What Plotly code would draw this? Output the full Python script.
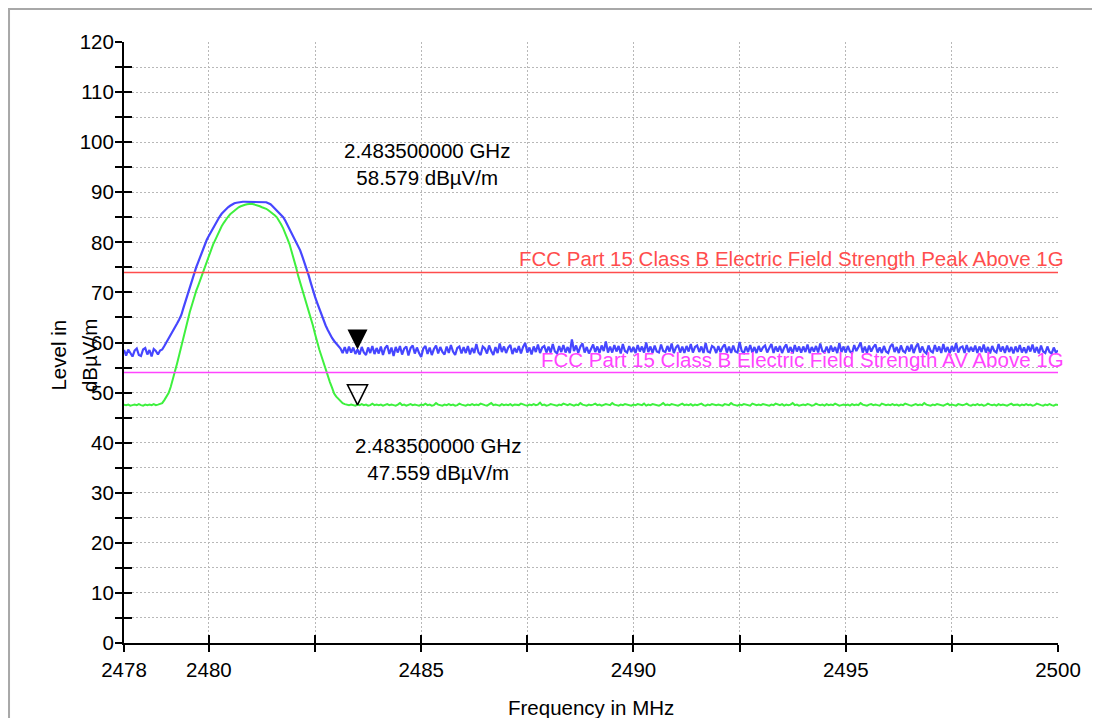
import numpy as np
import plotly.graph_objects as go

# ---------------- data ----------------
FREQ_START_MHZ = 2478.0
FREQ_STEP_MHZ = 0.05

# Peak detector trace (blue), dBµV/m, one row per MHz (20 sweep points each)
PEAK_LEVEL = [
    58.5, 57.4, 58.6, 57.9, 57.2, 58.4, 58.8, 57.5, 57.3, 58.6, 58.9, 57.6, 58.5, 57.2, 58.7, 58.3, 57.6, 58.4, 58.6, 59.3,
    60.0, 60.9, 61.6, 62.3, 63.0, 63.8, 64.6, 65.5, 66.9, 68.3, 69.7, 71.0, 72.4, 73.7, 75.0, 76.1, 77.3, 78.5, 79.6, 80.5,
    81.3, 82.1, 82.9, 83.6, 84.4, 85.1, 85.7, 86.2, 86.6, 87.0, 87.3, 87.6, 87.8, 87.9, 88.0, 88.1, 88.1, 88.1, 88.1, 88.1,
    88.1, 88.1, 88.1, 88.1, 88.1, 88.1, 88.1, 88.0, 87.8, 87.6, 87.2, 86.8, 86.3, 85.9, 85.4, 85.0, 84.3, 83.5, 82.7, 81.9,
    81.1, 80.3, 79.5, 78.4, 77.2, 76.0, 74.7, 73.4, 71.9, 70.3, 69.1, 67.9, 66.7, 65.4, 64.4, 63.4, 62.5, 61.6, 60.9, 60.3,
    59.8, 59.3, 58.8, 57.9, 59.1, 57.8, 59.2, 58.0, 59.0, 57.7, 58.6, 57.6, 59.1, 58.0, 57.5, 59.0, 57.9, 59.3, 57.7, 58.9,
    57.8, 59.2, 57.5, 58.9, 59.4, 57.7, 59.0, 57.3, 59.1, 58.0, 59.3, 57.6, 58.8, 59.2, 57.4, 58.9, 59.4, 57.8, 59.0, 57.9,
    57.1, 58.8, 59.3, 57.7, 59.0, 57.5, 58.7, 59.4, 57.8, 59.1, 58.1, 57.6, 59.2, 57.9, 59.5, 58.2, 57.5, 58.9, 59.2, 57.8,
    59.1, 57.9, 59.3, 57.6, 58.9, 57.9, 59.7, 58.0, 57.5, 59.2, 58.8, 57.8, 59.4, 58.3, 57.5, 59.1, 57.9, 59.8, 58.1, 59.2,
    57.9, 59.0, 59.5, 57.7, 58.9, 58.0, 59.3, 57.8, 59.1, 59.9, 58.0, 59.0, 57.6, 59.2, 58.1, 59.6, 57.9, 59.0, 59.3, 58.0,
    59.2, 58.0, 59.7, 58.2, 57.8, 59.3, 58.1, 59.5, 58.0, 59.1, 57.9, 60.6, 58.3, 59.4, 57.9, 59.2, 59.8, 58.0, 59.1, 57.8,
    58.9, 59.6, 58.1, 59.2, 57.9, 59.4, 58.3, 60.2, 58.0, 59.2, 58.0, 59.5, 58.2, 59.3, 57.8, 59.7, 58.3, 58.0, 59.3, 58.1,
    59.1, 57.9, 59.5, 58.2, 59.2, 58.0, 60.0, 58.1, 59.2, 57.9, 59.4, 58.2, 58.0, 59.6, 58.3, 58.1, 59.3, 58.2, 59.8, 57.9,
    59.0, 59.5, 58.0, 59.2, 57.9, 59.3, 58.2, 59.7, 58.0, 59.1, 59.4, 58.1, 59.2, 57.9, 59.9, 58.2, 58.0, 59.3, 59.0, 57.9,
    59.3, 58.1, 59.1, 59.6, 58.0, 59.2, 57.9, 59.4, 58.2, 58.0, 60.1, 58.3, 57.9, 59.2, 58.1, 59.5, 58.0, 59.1, 57.9, 59.3,
    58.2, 59.0, 59.4, 58.0, 58.9, 59.7, 57.9, 59.2, 58.2, 59.3, 57.9, 59.0, 59.6, 58.0, 59.1, 57.8, 59.5, 58.2, 59.2, 58.0,
    59.2, 58.1, 59.6, 57.9, 59.1, 58.2, 59.3, 58.0, 59.8, 58.3, 58.0, 59.2, 57.9, 59.4, 58.2, 59.1, 57.9, 59.9, 58.1, 59.2,
    58.0, 59.3, 58.2, 57.9, 59.5, 58.3, 59.1, 60.0, 58.0, 59.2, 57.9, 59.4, 58.2, 59.1, 59.6, 58.0, 59.0, 57.9, 59.3, 58.2,
    57.9, 59.2, 59.7, 58.1, 59.1, 57.9, 59.4, 58.3, 58.0, 59.3, 58.2, 59.6, 57.9, 59.1, 59.8, 58.0, 59.2, 58.2, 57.8, 59.4,
    58.3, 58.0, 59.5, 58.2, 59.2, 57.9, 59.7, 58.1, 59.1, 57.8, 59.3, 58.2, 59.9, 58.0, 59.0, 59.2, 57.9, 59.5, 58.1, 59.1,
    58.2, 59.4, 57.9, 59.2, 58.1, 59.6, 58.0, 59.1, 57.8, 59.3, 58.3, 58.0, 59.7, 58.2, 59.2, 57.9, 59.4, 58.1, 59.1, 57.8,
    59.2, 58.1, 59.5, 58.0, 59.0, 57.9, 59.3, 58.2, 59.6, 58.0, 59.1, 57.8, 59.4, 58.2, 57.9, 59.2, 58.1, 57.8, 59.0, 58.0,
    58.4,
]

# Average detector trace (green), dBµV/m
AV_LEVEL = [
    47.6, 47.5, 47.6, 47.4, 47.5, 47.6, 47.5, 47.7, 47.5, 47.4, 47.6, 47.5, 47.6, 47.5, 47.7, 47.5, 47.6, 47.7, 47.9, 48.5,
    49.1, 49.9, 51.1, 52.5, 54.0, 55.8, 57.5, 59.3, 61.1, 62.8, 64.6, 66.1, 67.5, 69.0, 70.3, 71.4, 72.6, 73.6, 74.7, 75.9,
    77.2, 78.4, 79.6, 80.5, 81.5, 82.4, 83.2, 83.9, 84.6, 85.1, 85.6, 86.0, 86.4, 86.7, 87.0, 87.2, 87.4, 87.5, 87.6, 87.7,
    87.7, 87.6, 87.5, 87.4, 87.2, 87.0, 86.9, 86.7, 86.4, 86.1, 85.7, 85.4, 85.0, 84.4, 83.6, 82.8, 81.9, 80.7, 79.6, 78.2,
    76.8, 75.1, 73.4, 72.0, 70.5, 69.2, 67.8, 66.4, 65.0, 63.4, 61.7, 60.0, 58.6, 57.3, 55.9, 54.6, 53.3, 52.1, 51.0, 49.8,
    49.2, 48.7, 48.2, 47.9, 47.7, 47.6, 47.5, 47.6, 47.5, 47.4, 47.6, 47.5, 47.7, 47.5, 47.6, 47.4, 47.5, 47.8, 47.5, 47.6,
    47.5, 47.6, 47.4, 47.5, 47.7, 47.5, 47.6, 47.5, 47.4, 47.6, 47.9, 47.5, 47.6, 47.4, 47.5, 47.7, 47.5, 47.6, 47.5, 47.4,
    47.6, 47.5, 47.8, 47.5, 47.6, 47.4, 47.5, 47.9, 47.6, 47.5, 47.4, 47.6, 47.5, 47.7, 47.5, 47.6, 47.4, 47.5, 47.8, 47.6,
    47.5, 47.4, 47.6, 47.5, 47.7, 47.5, 47.6, 47.5, 47.8, 47.6, 47.5, 47.4, 47.6, 47.9, 47.5, 47.6, 47.5, 47.4, 47.7, 47.5,
    47.6, 47.5, 47.7, 47.4, 47.6, 47.5, 47.5, 47.8, 47.6, 47.5, 47.4, 47.6, 47.5, 47.7, 47.5, 47.6, 48.0, 47.5, 47.6, 47.4,
    47.5, 47.7, 47.6, 47.5, 47.4, 47.6, 47.5, 47.8, 47.6, 47.5, 47.7, 47.5, 47.4, 47.6, 47.5, 47.9, 47.6, 47.5, 47.4, 47.6,
    47.5, 47.6, 47.8, 47.5, 47.6, 47.4, 47.5, 47.7, 47.6, 47.5, 47.9, 47.6, 47.5, 47.4, 47.6, 47.5, 47.7, 47.6, 47.5, 47.4,
    47.6, 47.5, 47.7, 47.6, 47.5, 47.8, 47.4, 47.6, 47.5, 47.7, 47.6, 47.5, 47.4, 47.6, 47.9, 47.5, 47.6, 47.5, 47.7, 47.6,
    47.5, 47.4, 47.6, 47.8, 47.5, 47.6, 47.5, 47.7, 47.4, 47.6, 47.5, 47.6, 47.8, 47.5, 47.4, 47.6, 47.5, 47.7, 47.6, 47.5,
    47.6, 47.5, 47.4, 47.7, 47.6, 47.5, 47.9, 47.6, 47.5, 47.4, 47.6, 47.5, 47.7, 47.6, 47.5, 47.4, 47.8, 47.6, 47.5, 47.6,
    47.5, 47.7, 47.6, 47.5, 47.4, 47.6, 47.5, 47.8, 47.6, 47.5, 47.7, 47.4, 47.6, 47.5, 47.6, 47.9, 47.5, 47.6, 47.4, 47.5,
    47.6, 47.5, 47.7, 47.6, 47.4, 47.5, 47.8, 47.6, 47.5, 47.6, 47.4, 47.7, 47.5, 47.6, 47.5, 47.8, 47.6, 47.4, 47.5, 47.6,
    47.5, 47.6, 47.4, 47.7, 47.5, 47.6, 47.5, 47.9, 47.6, 47.5, 47.4, 47.6, 47.7, 47.5, 47.6, 47.5, 47.4, 47.8, 47.6, 47.5,
    47.6, 47.5, 47.7, 47.5, 47.6, 47.4, 47.6, 47.5, 47.8, 47.6, 47.5, 47.4, 47.6, 47.7, 47.5, 47.6, 47.5, 47.9, 47.6, 47.5,
    47.4, 47.6, 47.5, 47.7, 47.6, 47.5, 47.4, 47.6, 47.8, 47.5, 47.6, 47.5, 47.4, 47.7, 47.6, 47.5, 47.6, 47.8, 47.5, 47.4,
    47.6, 47.5, 47.7, 47.5, 47.6, 47.4, 47.5, 47.8, 47.6, 47.5, 47.6, 47.4, 47.7, 47.5, 47.6, 47.5, 47.4, 47.6, 47.8, 47.5,
    47.5, 47.6, 47.4, 47.6, 47.5, 47.7, 47.5, 47.6, 47.4, 47.5, 47.8, 47.6, 47.5, 47.4, 47.6, 47.5, 47.7, 47.5, 47.4, 47.6,
    47.5,
]

# Limit lines
LIMIT_NAMES = ["FCC Part 15 Class B Electric Field Strength Peak Above 1G",
               "FCC Part 15 Class B Electric Field Strength AV Above 1G"]
LIMIT_LEVELS = [74.0, 54.0]

# Markers
MARKER_FREQ_MHZ = [2483.5, 2483.5]
MARKER_LEVELS = [58.579, 47.559]

# Axes
X_RANGE = [2478, 2500]
X_TICKS = [2478, 2480, 2482.5, 2485, 2487.5, 2490, 2492.5, 2495, 2497.5, 2500]
X_TICK_TEXT = ["2478", "2480", "", "2485", "", "2490", "", "2495", "", "2500"]
Y_RANGE = [0, 120]
Y_TICKS = list(range(0, 121, 5))
Y_TICK_TEXT = [str(v) if v % 10 == 0 else "" for v in Y_TICKS]

# ---------------- figure ----------------
freqs = np.round(FREQ_START_MHZ + FREQ_STEP_MHZ * np.arange(len(PEAK_LEVEL)), 3)

FONT = "Liberation Sans, Arial, Helvetica, sans-serif"
FS = 20.5
BLUE = "#4646ff"
GREEN = "#3ef03e"
RED = "#ff4d4d"
MAGENTA = "#ff44ff"
GRID = "#b8b8b8"

fig = go.Figure()

fig.add_trace(go.Scatter(x=freqs, y=PEAK_LEVEL, mode="lines",
                         line=dict(color=BLUE, width=2.2), hoverinfo="skip", showlegend=False))
fig.add_trace(go.Scatter(x=freqs, y=AV_LEVEL, mode="lines",
                         line=dict(color=GREEN, width=2), hoverinfo="skip", showlegend=False))

limit_colors = [RED, MAGENTA]
for name, lvl, col in zip(LIMIT_NAMES, LIMIT_LEVELS, limit_colors):
    fig.add_trace(go.Scatter(x=X_RANGE, y=[lvl, lvl], mode="lines",
                             line=dict(color=col, width=1.5), hoverinfo="skip", showlegend=False))
    fig.add_annotation(x=X_RANGE[1], y=lvl, xref="x", yref="y", text=name,
                       showarrow=False, xanchor="right", yanchor="bottom",
                       xshift=8, yshift=0, font=dict(family=FONT, size=FS, color=col))

# markers (filled = peak, open = average)
fig.add_trace(go.Scatter(x=[MARKER_FREQ_MHZ[0]], y=[MARKER_LEVELS[0]], mode="markers",
                         marker=dict(symbol="arrow-down", size=20, color="black",
                                     line=dict(width=0)),
                         hoverinfo="skip", showlegend=False))
fig.add_trace(go.Scatter(x=[MARKER_FREQ_MHZ[1]], y=[MARKER_LEVELS[1]], mode="markers",
                         marker=dict(symbol="arrow-down-open", size=20, color="black",
                                     line=dict(width=1.6, color="black")),
                         hoverinfo="skip", showlegend=False))

marker_shifts = [(69, 186), (80, -54)]
for f, lvl, (dx, dy) in zip(MARKER_FREQ_MHZ, MARKER_LEVELS, marker_shifts):
    fig.add_annotation(x=f, y=lvl, xref="x", yref="y",
                       text=f"{f/1000:.9f} GHz<br>{lvl:.3f} dBµV/m",
                       showarrow=False, xanchor="center", yanchor="middle",
                       xshift=dx, yshift=dy, align="center",
                       font=dict(family=FONT, size=FS, color="black"))

# dummy trace for the overlay axes (cross ticks)
fig.add_trace(go.Scatter(x=[], y=[], xaxis="x2", yaxis="y2", showlegend=False, hoverinfo="skip"))

axis_common = dict(showline=True, linecolor="black", linewidth=2,
                   ticks="outside", ticklen=7, tickwidth=2, tickcolor="black",
                   showgrid=True, gridcolor=GRID, gridwidth=1, griddash="2px,2px",
                   zeroline=False, tickfont=dict(family=FONT, size=FS, color="black"),
                   fixedrange=True)

fig.update_layout(
    width=1100, height=718,
    margin=dict(l=116, r=50, t=34, b=83, autoexpand=False),
    paper_bgcolor="white", plot_bgcolor="white",
    font=dict(family=FONT, size=FS, color="black"),
    xaxis=dict(range=X_RANGE, tickmode="array", tickvals=X_TICKS, ticktext=X_TICK_TEXT,
               **axis_common),
    yaxis=dict(range=Y_RANGE, tickmode="array", tickvals=Y_TICKS, ticktext=Y_TICK_TEXT,
               ticklabelstandoff=-3, **axis_common),
    xaxis2=dict(range=X_RANGE, overlaying="x", anchor="y2", side="bottom",
                tickmode="array", tickvals=X_TICKS, showticklabels=False,
                ticks="inside", ticklen=8, tickwidth=2, tickcolor="black",
                showgrid=False, zeroline=False, showline=False, fixedrange=True),
    yaxis2=dict(range=Y_RANGE, overlaying="y", anchor="x2", side="left",
                tickmode="array", tickvals=Y_TICKS, showticklabels=False,
                ticks="inside", ticklen=8, tickwidth=2, tickcolor="black",
                showgrid=False, zeroline=False, showline=False, fixedrange=True),
)

# axis titles
fig.add_annotation(xref="paper", yref="paper", x=0.5, y=-0.1065, text="Frequency in MHz",
                   showarrow=False, xanchor="center", yanchor="middle",
                   font=dict(family=FONT, size=FS, color="black"))
fig.add_annotation(xref="paper", yref="paper", x=-0.0702, y=0.479, text="Level in",
                   showarrow=False, xanchor="center", yanchor="middle", textangle=-90,
                   font=dict(family=FONT, size=FS, color="black"))
fig.add_annotation(xref="paper", yref="paper", x=-0.0375, y=0.479, text="dBµV/m",
                   showarrow=False, xanchor="center", yanchor="middle", textangle=-90,
                   font=dict(family=FONT, size=FS, color="black"))

# outer frame
fig.add_shape(type="rect", xref="paper", yref="paper",
              x0=-0.1231, x1=1.2, y0=-0.3, y1=1.0549,
              line=dict(color="#a8a8a8", width=2), fillcolor="rgba(0,0,0,0)", layer="below")

fig.write_html("out.html")
